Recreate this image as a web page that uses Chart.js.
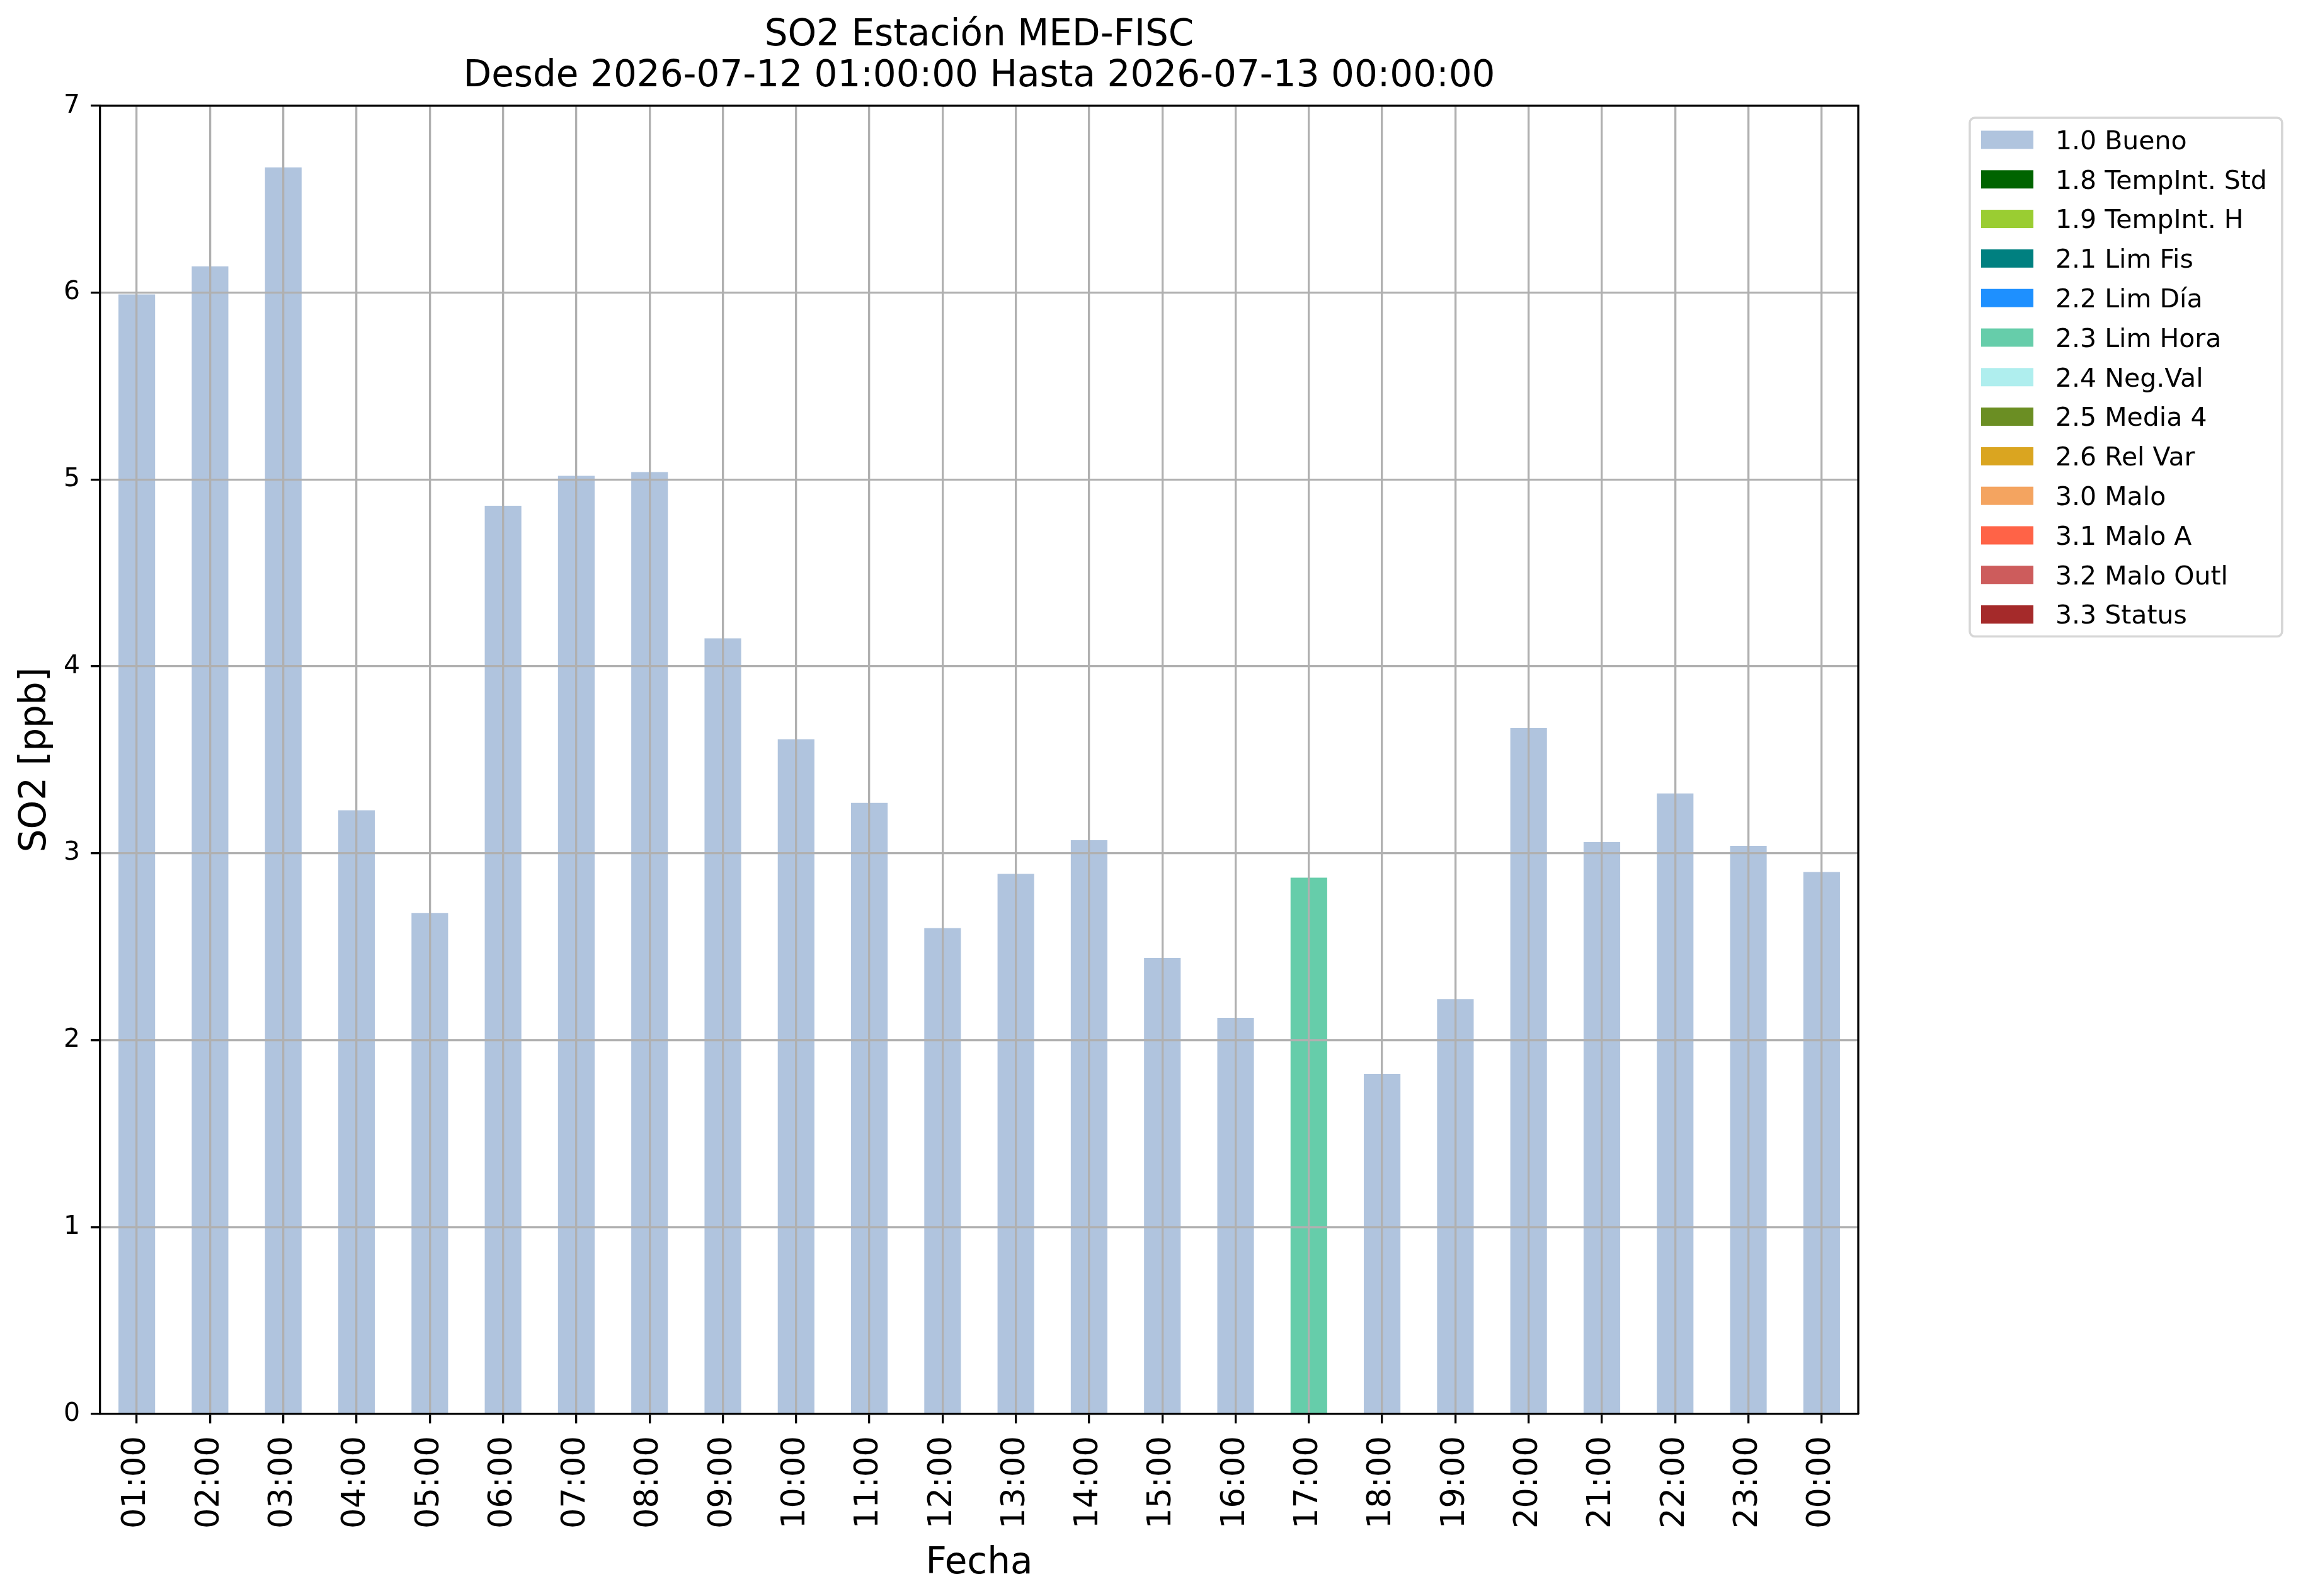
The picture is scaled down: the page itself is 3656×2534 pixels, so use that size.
<!DOCTYPE html>
<html>
<head>
<meta charset="utf-8">
<title>SO2 Estación MED-FISC</title>
<script src="https://cdn.jsdelivr.net/npm/chart.js@4.4.1/dist/chart.umd.min.js"></script>
<style>
  html, body { margin: 0; padding: 0; background: #ffffff; }
  #myChart { display: block; }
</style>
</head>
<body>
<canvas id="myChart" width="3656" height="2534" style="width:3656px;height:2534px"></canvas>
<script>
// Horas (eje x)
const horas = ['01:00', '02:00', '03:00', '04:00', '05:00', '06:00', '07:00', '08:00',
               '09:00', '10:00', '11:00', '12:00', '13:00', '14:00', '15:00', '16:00',
               '17:00', '18:00', '19:00', '20:00', '21:00', '22:00', '23:00', '00:00'];

// Valores de SO2 [ppb] por hora
const valores = [5.99, 6.14, 6.67, 3.23, 2.68, 4.86, 5.02, 5.04,
                 4.15, 3.61, 3.27, 2.60, 2.89, 3.07, 2.44, 2.12,
                 2.87, 1.82, 2.22, 3.67, 3.06, 3.32, 3.04, 2.90];

// Bandera de calidad de cada hora
const banderas = ['1.0 Bueno', '1.0 Bueno', '1.0 Bueno', '1.0 Bueno', '1.0 Bueno', '1.0 Bueno',
                  '1.0 Bueno', '1.0 Bueno', '1.0 Bueno', '1.0 Bueno', '1.0 Bueno', '1.0 Bueno',
                  '1.0 Bueno', '1.0 Bueno', '1.0 Bueno', '1.0 Bueno', '2.3 Lim Hora', '1.0 Bueno',
                  '1.0 Bueno', '1.0 Bueno', '1.0 Bueno', '1.0 Bueno', '1.0 Bueno', '1.0 Bueno'];

// Leyenda: etiquetas y colores de las banderas
const etiquetas = ['1.0 Bueno', '1.8 TempInt. Std', '1.9 TempInt. H', '2.1 Lim Fis', '2.2 Lim Día',
                   '2.3 Lim Hora', '2.4 Neg.Val', '2.5 Media 4', '2.6 Rel Var', '3.0 Malo',
                   '3.1 Malo A', '3.2 Malo Outl', '3.3 Status'];
const colores = ['#b0c4de', '#006400', '#9acd32', '#008080', '#1e90ff',
                 '#66cdaa', '#afeeee', '#6b8e23', '#daa520', '#f4a460',
                 '#ff6347', '#cd5c5c', '#a52a2a'];

// Ticks del eje y
const ticksY = [0, 1, 2, 3, 4, 5, 6, 7];

Chart.defaults.font.family = '"DejaVu Sans", sans-serif';
Chart.defaults.color = '#000000';

// One dataset per flag, stacked so every hour has a single bar
const datasets = etiquetas.map((label, k) => ({
    label: label,
    data: valores.map((v, i) => banderas[i] === label ? v : null),
    backgroundColor: colores[k],
    borderWidth: 0,
    categoryPercentage: 1.0,
    barPercentage: 0.5
}));

// Top and right spines (matplotlib style frame)
const frame = {
    id: 'frame',
    afterDraw(chart) {
        const { ctx, chartArea: a } = chart;
        ctx.save();
        ctx.strokeStyle = '#000000';
        ctx.lineWidth = 3.3;
        ctx.beginPath();
        ctx.moveTo(a.left, a.top);
        ctx.lineTo(a.right, a.top);
        ctx.lineTo(a.right, a.bottom);
        ctx.stroke();
        ctx.restore();
    }
};

// Legend box outside the plot, upper left anchored
const legendBox = {
    id: 'legendBox',
    afterDraw(chart) {
        const { ctx, chartArea: a } = chart;
        const sets = chart.data.datasets;
        const left = a.right + 177;
        const top = 187;
        const rowH = 62.8;
        const fontSize = 41;
        ctx.save();
        ctx.font = fontSize + 'px "DejaVu Sans"';
        let maxW = 0;
        sets.forEach(ds => { maxW = Math.max(maxW, ctx.measureText(ds.label).width); });
        const w = 136 + maxW + 24;
        const h = 70 + rowH * (sets.length - 1);

        // frame
        const r = 8;
        ctx.beginPath();
        ctx.moveTo(left + r, top);
        ctx.arcTo(left + w, top, left + w, top + h, r);
        ctx.arcTo(left + w, top + h, left, top + h, r);
        ctx.arcTo(left, top + h, left, top, r);
        ctx.arcTo(left, top, left + w, top, r);
        ctx.closePath();
        ctx.fillStyle = 'rgba(255,255,255,0.8)';
        ctx.fill();
        ctx.strokeStyle = '#d6d6d6';
        ctx.lineWidth = 3.5;
        ctx.stroke();

        sets.forEach((ds, i) => {
            const cy = top + 35 + i * rowH;
            ctx.fillStyle = ds.backgroundColor;
            ctx.fillRect(left + 18, cy - 14.5, 83, 29);
            ctx.fillStyle = '#000000';
            ctx.textAlign = 'left';
            ctx.textBaseline = 'alphabetic';
            ctx.fillText(ds.label, left + 136, cy + 14.8);
        });
        ctx.restore();
    }
};

const ctx = document.getElementById('myChart').getContext('2d');
window.myChart = new Chart(ctx, {
    type: 'bar',
    data: {
        labels: horas,
        datasets: datasets
    },
    options: {
        responsive: false,
        animation: false,
        devicePixelRatio: 1,
        layout: {
            padding: { left: 0, right: 706, top: 0, bottom: 0 }
        },
        plugins: {
            legend: { display: false },
            tooltip: { enabled: false },
            title: {
                display: true,
                fullSize: false,
                text: ['SO2 Estación MED-FISC', 'Desde 2026-07-12 01:00:00 Hasta 2026-07-13 00:00:00'],
                font: { size: 58, weight: 'normal', lineHeight: 1.12 },
                color: '#000000',
                padding: { top: 24, bottom: 14 }
            }
        },
        scales: {
            x: {
                stacked: true,
                offset: true,
                afterFit: scale => { scale.height = 289; },
                grid: {
                    z: 1,
                    offset: false,
                    color: '#b0b0b0',
                    lineWidth: 3.3,
                    drawTicks: true,
                    tickLength: 15,
                    tickColor: '#000000',
                    tickWidth: 3.3
                },
                border: { display: true, color: '#000000', width: 3.3, z: 2 },
                ticks: {
                    autoSkip: false,
                    minRotation: 90,
                    maxRotation: 90,
                    padding: 20,
                    font: { size: 51 },
                    color: '#000000'
                },
                title: {
                    display: true,
                    text: 'Fecha',
                    font: { size: 58 },
                    color: '#000000',
                    padding: { top: 0, bottom: 16 }
                }
            },
            y: {
                stacked: true,
                min: 0,
                max: 7,
                afterFit: scale => { scale.width = 159; },
                afterBuildTicks: scale => { scale.ticks = ticksY.map(v => ({ value: v })); },
                grid: {
                    z: 1,
                    color: '#b0b0b0',
                    lineWidth: 3.3,
                    drawTicks: true,
                    tickLength: 15,
                    tickColor: '#000000',
                    tickWidth: 3.3
                },
                border: { display: true, color: '#000000', width: 3.3, z: 2 },
                ticks: {
                    padding: 17,
                    font: { size: 41 },
                    color: '#000000'
                },
                title: {
                    display: true,
                    text: 'SO2 [ppb]',
                    font: { size: 58 },
                    color: '#000000',
                    padding: { top: 22, bottom: 0 }
                }
            }
        }
    },
    plugins: [frame, legendBox]
});
</script>
</body>
</html>
